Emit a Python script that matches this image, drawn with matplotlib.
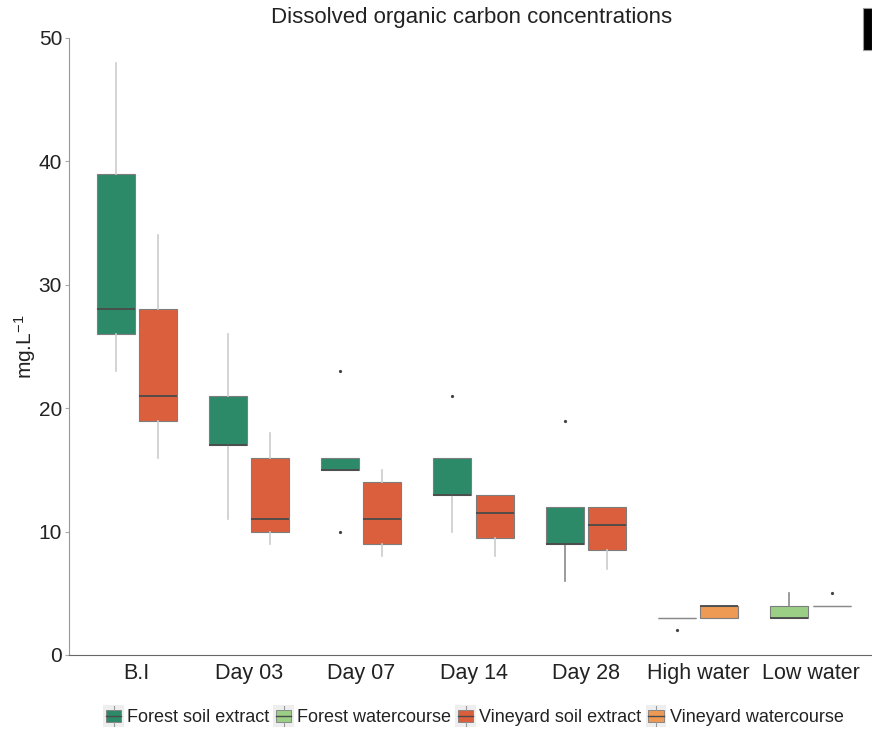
import matplotlib
matplotlib.use("Agg")
import matplotlib.pyplot as plt
from matplotlib.patches import Rectangle, Patch
from matplotlib.lines import Line2D
from matplotlib.legend_handler import HandlerBase

plt.rcParams['font.family'] = ['Liberation Sans', 'DejaVu Sans']
plt.rcParams['mathtext.fontset'] = 'custom'
plt.rcParams['mathtext.rm'] = 'Liberation Sans'
plt.rcParams['mathtext.it'] = 'Liberation Sans'
plt.rcParams['mathtext.default'] = 'regular'

categories = ['B.I', 'Day 03', 'Day 07', 'Day 14', 'Day 28', 'High water', 'Low water']
series_names = ['Forest soil extract', 'Forest watercourse',
                'Vineyard soil extract', 'Vineyard watercourse']

# Forest soil extract (B.I .. Day 28)
fse_whislo = [23, 11, 15, 10, 6]
fse_q1     = [26, 17, 15, 13, 9]
fse_med    = [28, 17, 15, 13, 9]
fse_q3     = [39, 21, 16, 16, 12]
fse_whishi = [48, 26, 16, 16, 12]
fse_fliers = [[], [], [10, 23], [21], [19]]

# Vineyard soil extract (B.I .. Day 28)
vse_whislo = [16, 9, 8, 8, 7]
vse_q1     = [19, 10, 9, 9.5, 8.5]
vse_med    = [21, 11, 11, 11.5, 10.5]
vse_q3     = [28, 16, 14, 13, 12]
vse_whishi = [34, 18, 15, 13, 12]
vse_fliers = [[], [], [], [], []]

# Forest watercourse (High water, Low water)
fwc_whislo = [3, 3]
fwc_q1     = [3, 3]
fwc_med    = [3, 3]
fwc_q3     = [3, 4]
fwc_whishi = [3, 5]
fwc_fliers = [[2], []]

# Vineyard watercourse (High water, Low water)
vwc_whislo = [3, 4]
vwc_q1     = [3, 4]
vwc_med    = [4, 4]
vwc_q3     = [4, 4]
vwc_whishi = [4, 4]
vwc_fliers = [[], [5]]

colors = {'Forest soil extract': '#2c8a69', 'Forest watercourse': '#9ccf86',
          'Vineyard soil extract': '#dc5f3d', 'Vineyard watercourse': '#ee9a55'}


def stats(wlo, q1, med, q3, whi, fl):
    return [dict(whislo=a, q1=b, med=c, q3=d, whishi=e, fliers=f)
            for a, b, c, d, e, f in zip(wlo, q1, med, q3, whi, fl)]


fig = plt.figure(figsize=(8.72, 7.31), dpi=100)
ax = fig.add_axes([69 / 872, 1 - 655 / 731, 1 - 69 / 872, (655 - 38) / 731])

off = 0.188
w = 0.338
groups = [
    ('Forest soil extract', stats(fse_whislo, fse_q1, fse_med, fse_q3, fse_whishi, fse_fliers), [0, 1, 2, 3, 4], -off,
     ['#cccccc', '#cccccc', '#cccccc', '#cccccc', '#8a8a8a']),
    ('Vineyard soil extract', stats(vse_whislo, vse_q1, vse_med, vse_q3, vse_whishi, vse_fliers), [0, 1, 2, 3, 4], off,
     ['#cccccc'] * 5),
    ('Forest watercourse', stats(fwc_whislo, fwc_q1, fwc_med, fwc_q3, fwc_whishi, fwc_fliers), [5, 6], -off,
     ['#8a8a8a', '#8a8a8a']),
    ('Vineyard watercourse', stats(vwc_whislo, vwc_q1, vwc_med, vwc_q3, vwc_whishi, vwc_fliers), [5, 6], off,
     ['#8a8a8a', '#8a8a8a']),
]

for name, st, pos, o, wcols in groups:
    collapsed = [s['q1'] == s['q3'] for s in st]
    res = ax.bxp(st, positions=[p + o for p in pos], widths=w, patch_artist=True,
                 showcaps=False, manage_ticks=False,
                 boxprops=dict(facecolor=colors[name], edgecolor='#7d7d7d', linewidth=0.8),
                 medianprops=dict(color='#4a4a4a', linewidth=1.3),
                 whiskerprops=dict(color='#cccccc', linewidth=1.2),
                 flierprops=dict(marker='o', markersize=1.3, markerfacecolor='#444444',
                                 markeredgecolor='#444444', linestyle='none'))
    for i, c in enumerate(wcols):
        res['whiskers'][2 * i].set_color(c)
        res['whiskers'][2 * i + 1].set_color(c)
        if collapsed[i]:
            res['boxes'][i].set_edgecolor('#8a8a8a')
            res['medians'][i].set_color('#8a8a8a')
            res['medians'][i].set_linewidth(1.0)

ax.set_xlim(-0.603, 6.548)
ax.set_ylim(0, 50)
ax.set_xticks(range(len(categories)))
ax.set_xticklabels(categories, fontsize=15.5, color='#222222')
ax.set_yticks([0, 10, 20, 30, 40, 50])
ax.tick_params(axis='y', labelsize=15, length=3, color='#aaaaaa', labelcolor='#222222', pad=2)
ax.tick_params(axis='x', length=0, pad=6)
for s in ['top', 'right']:
    ax.spines[s].set_visible(False)
ax.spines['left'].set_color('#999999')
ax.spines['bottom'].set_color('#666666')
ax.set_ylabel('mg.L$^{-1}$', fontsize=15, color='#222222')
ax.yaxis.set_label_coords(-0.038, 0.5)

fig.text(472 / 872, 1 - 18 / 731, 'Dissolved organic carbon concentrations',
         ha='center', va='center', fontsize=16, color='#222222')

fig.patches.append(Rectangle((863 / 872, 1 - 50 / 731), 9 / 872, 42 / 731,
                             transform=fig.transFigure, facecolor='black',
                             edgecolor='#999999', linewidth=0.8))


class BoxHandler(HandlerBase):
    def create_artists(self, legend, orig_handle, xdescent, ydescent, width, height, fontsize, trans):
        fc = orig_handle.get_facecolor()
        x0, y0 = -xdescent, -ydescent
        bg = Rectangle((x0 - 1, y0 - 0.35 * height), width + 2, height * 1.7,
                       facecolor='#eeeeee', edgecolor='none', transform=trans)
        box = Rectangle((x0 + 0.08 * width, y0 + 0.05 * height), 0.84 * width, 0.9 * height,
                        facecolor=fc, edgecolor='#7d7d7d', linewidth=0.6, transform=trans)
        cx = x0 + width / 2
        med = Line2D([x0 + 0.08 * width, x0 + 0.92 * width], [y0 + 0.5 * height] * 2,
                     color='#4a4a4a', linewidth=1.0, transform=trans)
        w1 = Line2D([cx, cx], [y0 + 0.95 * height, y0 + 1.3 * height], color='#999999',
                    linewidth=0.8, transform=trans)
        w2 = Line2D([cx, cx], [y0 - 0.3 * height, y0 + 0.05 * height], color='#999999',
                    linewidth=0.8, transform=trans)
        return [bg, box, med, w1, w2]


handles = [Patch(facecolor=colors[n]) for n in series_names]
fig.legend(handles, series_names, handler_map={Patch: BoxHandler()},
           loc='center', bbox_to_anchor=(474 / 872, 1 - 718 / 731), ncol=4,
           frameon=False, fontsize=13, handlelength=1.0, handleheight=0.7,
           handletextpad=0.25, columnspacing=0.3, labelcolor='#222222')

fig.savefig('out.png', dpi=100)
